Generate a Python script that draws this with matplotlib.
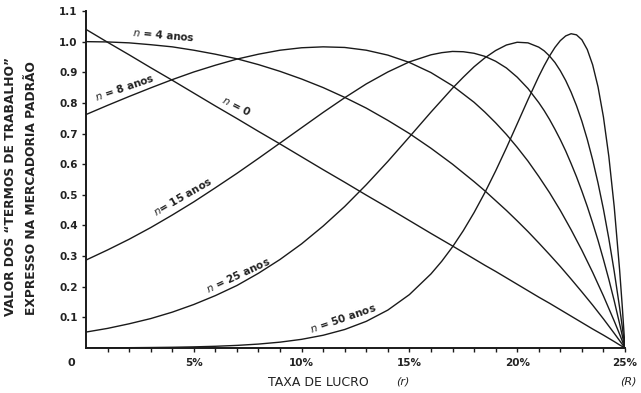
import matplotlib
matplotlib.use("Agg")
import matplotlib.pyplot as plt

# profit rate r (%) and value of the labour terms
r_pct = [0, 1, 2, 3, 4, 5, 6, 7, 8, 9, 10, 11, 12, 13, 14, 15, 16, 17, 18,
         18.5, 19, 19.5, 20, 20.5, 21, 21.5, 22, 22.5, 23, 23.5, 24, 24.5, 24.75, 25]

n0 = [1.04, 0.998, 0.957, 0.915, 0.874, 0.832, 0.790, 0.749, 0.707, 0.666, 0.624, 0.582,
      0.541, 0.499, 0.458, 0.416, 0.374, 0.333, 0.291, 0.270, 0.250, 0.229, 0.208, 0.187,
      0.166, 0.146, 0.125, 0.104, 0.083, 0.062, 0.042, 0.021, 0.010, 0]
n4 = [1.0, 0.999, 0.996, 0.990, 0.983, 0.972, 0.959, 0.944, 0.925, 0.903, 0.878, 0.850,
      0.818, 0.783, 0.743, 0.700, 0.652, 0.600, 0.543, 0.513, 0.481, 0.449, 0.415, 0.380,
      0.343, 0.305, 0.266, 0.225, 0.183, 0.140, 0.095, 0.048, 0.024, 0]
n8 = [0.762, 0.792, 0.821, 0.849, 0.876, 0.901, 0.923, 0.943, 0.959, 0.972, 0.980, 0.983,
      0.981, 0.972, 0.956, 0.932, 0.899, 0.856, 0.802, 0.770, 0.735, 0.697, 0.655, 0.610,
      0.560, 0.507, 0.449, 0.386, 0.319, 0.247, 0.170, 0.088, 0.045, 0]

# finer profit-rate grid for the steeper curves
r_fine = [0, 1, 2, 3, 4, 5, 6, 7, 8, 9, 10, 11, 12, 13, 14, 15, 16,
          16.5, 17, 17.5, 18, 18.5, 19, 19.5, 20, 20.5, 21,
          21.25, 21.5, 21.75, 22, 22.25, 22.5, 22.75, 23, 23.25, 23.5, 23.75,
          24, 24.25, 24.5, 24.75, 24.875, 25]

n15 = [0.287, 0.320, 0.355, 0.393, 0.434, 0.477, 0.523, 0.570, 0.619, 0.669, 0.719, 0.769,
       0.817, 0.862, 0.901, 0.934, 0.957,
       0.964, 0.968, 0.967, 0.962, 0.952, 0.936, 0.914, 0.884, 0.847, 0.801,
       0.775, 0.746, 0.714, 0.680, 0.643, 0.602, 0.559, 0.512, 0.462, 0.408, 0.351,
       0.289, 0.224, 0.154, 0.079, 0.040, 0]
n25 = [0.052, 0.064, 0.079, 0.096, 0.117, 0.142, 0.171, 0.204, 0.244, 0.289, 0.340, 0.398,
       0.462, 0.533, 0.609, 0.689, 0.770,
       0.809, 0.848, 0.884, 0.918, 0.947, 0.971, 0.989, 0.998, 0.996, 0.982,
       0.970, 0.953, 0.932, 0.905, 0.873, 0.835, 0.791, 0.740, 0.681, 0.614, 0.538,
       0.453, 0.357, 0.250, 0.132, 0.068, 0]
n50 = [0.0004, 0.0006, 0.0010, 0.0016, 0.0024, 0.0037, 0.0056, 0.0085, 0.0128, 0.0191,
       0.0283, 0.0416, 0.0604, 0.0870, 0.1238, 0.1743, 0.2418,
       0.2831, 0.3301, 0.3830, 0.4421, 0.5072, 0.5779, 0.6532, 0.7317, 0.8106, 0.8864,
       0.9213, 0.9532, 0.9810, 1.0033, 1.0187, 1.0258, 1.0222, 1.0060, 0.9743, 0.9242, 0.8520,
       0.7540, 0.6254, 0.4610, 0.2548, 0.134, 0]

y_ticks = [0.1, 0.2, 0.3, 0.4, 0.5, 0.6, 0.7, 0.8, 0.9, 1.0, 1.1]
y_tick_labels = ["0.1", "0.2", "0.3", "0.4", "0.5", "0.6", "0.7", "0.8", "0.9", "1.0", "1.1"]
x_ticks = [5, 10, 15, 20, 25]
x_tick_labels = ["5%", "10%", "15%", "20%", "25%"]

# labels: (text, r position, value position, rotation)
curve_labels = [
    (r"$n$ = 4 anos", 3.6, 1.024, -5),
    (r"$n$ = 8 anos", 1.8, 0.853, 19),
    (r"$n$ = 0", 7.0, 0.79, -27),
    (r"$n$= 15 anos", 4.5, 0.495, 30),
    (r"$n$ = 25 anos", 7.05, 0.24, 25),
    (r"$n$ = 50 anos", 11.9, 0.098, 19),
]

plt.rcParams['font.family'] = ['DejaVu Sans']
fig = plt.figure(figsize=(6.41, 3.93), dpi=100)
ax = fig.add_axes([86/641, 1 - 348/393, (625-86)/641, (348-11)/393])

col = '#1a1a1a'
txtcol = '#222222'
for xs, ys in ((r_pct, n0), (r_pct, n4), (r_pct, n8),
               (r_fine, n15), (r_fine, n25), (r_fine, n50)):
    ax.plot(xs, ys, color=col, lw=1.0, solid_joinstyle='round')

ax.set_xlim(0, 25)
ax.set_ylim(0, 1.1)
for s in ('top', 'right'):
    ax.spines[s].set_visible(False)
for s in ('left', 'bottom'):
    ax.spines[s].set_linewidth(1.4)
    ax.spines[s].set_color(col)

ax.set_yticks(y_ticks)
ax.set_yticklabels(y_tick_labels, fontsize=7.5, fontweight='bold', color=txtcol)
ax.set_xticks(x_ticks)
ax.set_xticklabels(x_tick_labels, fontsize=7.5, fontweight='bold', color=txtcol)
ax.set_xticks(range(1, 26), minor=True)
ax.tick_params(axis='both', which='both', direction='out', color=col, width=1.0)
ax.tick_params(axis='y', length=3, pad=3)
ax.tick_params(axis='x', which='major', length=3, pad=4)
ax.tick_params(axis='x', which='minor', length=3)
ax.text(-0.027, -0.045, "0", transform=ax.transAxes, fontsize=8, fontweight='bold',
        ha='center', va='center', color=txtcol)

for txt, xr, yv, rot in curve_labels:
    ax.text(xr, yv, txt, fontsize=7.5, fontweight='bold', rotation=rot,
            ha='center', va='center', color=txtcol, rotation_mode='anchor')

fig.text(318/641, 1 - 382/393, "TAXA DE LUCRO", fontsize=9, ha='center', va='center',
         color=txtcol)
fig.text(403/641, 1 - 382/393, "(r)", fontsize=8, style='italic', ha='center',
         va='center', color=txtcol)
fig.text(628/641, 1 - 382/393, "(R)", fontsize=8, style='italic', ha='center',
         va='center', color=txtcol)
fig.text(11/641, 1 - 186/393, "VALOR DOS \u201cTERMOS DE TRABALHO\u201d", fontsize=8.8,
         fontweight='bold', rotation=90, ha='center', va='center', color=txtcol)
fig.text(32/641, 1 - 188/393, "EXPRESSO NA MERCADORIA PADRÃO", fontsize=8.8,
         fontweight='bold', rotation=90, ha='center', va='center', color=txtcol)

fig.savefig("out.png", dpi=100)
